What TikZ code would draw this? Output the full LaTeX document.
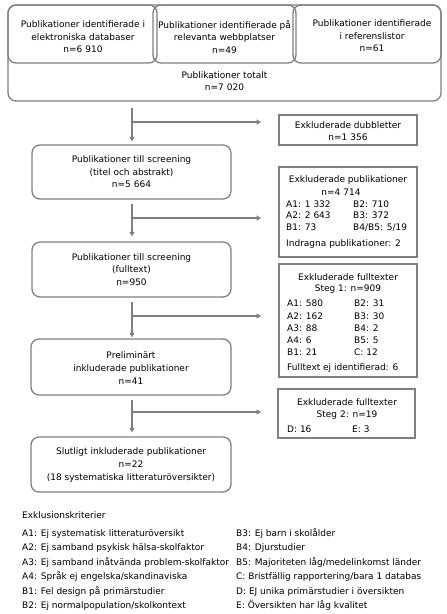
\documentclass[tikz,border=0pt]{standalone}
\usepackage{fontspec}
\newfontfamily\dv{DejaVu Sans}
\usetikzlibrary{arrows.meta}
\definecolor{boxgray}{HTML}{808080}
\definecolor{linegray}{HTML}{7F7F7F}
\begin{document}
\begin{tikzpicture}[x=1pt,y=-1pt,
  fs/.style={font=\dv\fontsize{9}{12.6}\selectfont},
  rbox/.style={draw=boxgray, line width=1.3pt, rounded corners=8pt, inner sep=0pt},
  sbox/.style={draw=boxgray, line width=1.9pt, inner sep=0pt},
  txt/.style={fs, align=center, inner sep=0pt},
  ltxt/.style={fs, anchor=base west, inner sep=0pt},
  arr/.style={draw=linegray, line width=1.4pt, -{Triangle[width=5pt,length=4.5pt]}},
]
\useasboundingbox (0,0) rectangle (447,614);
% top boxes
\node[rbox, minimum width=433pt, minimum height=96pt] (total) at (224.5,53) {};
\node[rbox, minimum width=149pt, minimum height=58pt] (t1) at (82.5,34) {};
\node[rbox, minimum width=143pt, minimum height=58pt] (t2) at (224.5,34) {};
\node[rbox, minimum width=148pt, minimum height=58pt] (t3) at (367,34) {};
\node[txt] (t1t) at (83,37) {Publikationer identifierade i\\elektroniska databaser\\n=6 910};
\node[txt] (t2t) at (224.5,37) {Publikationer identifierade på\\relevanta webbplatser\\n=49};
\node[txt] (t3t) at (372,36) {Publikationer identifierade\\i referenslistor\\n=61};
\node[txt] (tott) at (224.5,81) {Publikationer totalt\\n=7 020};
% left column
\node[rbox, minimum width=199pt, minimum height=54pt] (scr1) at (131.5,172) {};
\node[txt] at (scr1.center) {Publikationer till screening\\(titel och abstrakt)\\n=5 664};
\node[rbox, minimum width=199pt, minimum height=55pt] (scr2) at (131.5,269.5) {};
\node[txt] at (scr2.center) {Publikationer till screening\\(fulltext)\\n=950};
\node[rbox, minimum width=200pt, minimum height=56pt] (prel) at (131,367) {};
\node[txt] at (131,368) {Preliminärt\\inkluderade publikationer\\n=41};
\node[rbox, minimum width=200pt, minimum height=55pt] (fin) at (131,464.5) {};
\node[txt] at (131,465) {Slutligt inkluderade publikationer\\n=22\\(18 systematiska litteraturöversikter)};
% right column
\node[sbox, minimum width=138pt, minimum height=30pt] (dub) at (348,130) {};
\node[txt] at (348,131) {Exkluderade dubbletter\\n=1 356};
\node[sbox, minimum width=138pt, minimum height=90pt] (exp) at (348,212) {};
\node[txt] (expt) at (348,180) {Exkluderade publikationer};
\node[txt] at (341,192) {n=4 714};
\node[ltxt] at (286,207) {A1: 1 332};
\node[ltxt] at (353,207) {B2: 710};
\node[ltxt] at (286,218.5) {A2: 2 643};
\node[ltxt] at (353,218.5) {B3: 372};
\node[ltxt] at (286,230) {B1: 73};
\node[ltxt] at (353,230) {B4/B5: 5/19};
\node[ltxt] at (286,246.5) {Indragna publikationer: 2};
\node[sbox, minimum width=138pt, minimum height=113pt] (ex1) at (348,320.5) {};
\node[txt] at (348,277) {Exkluderade fulltexter};
\node[txt] at (348,289.5) {Steg 1: n=909};
\node[ltxt] at (287,306.5) {A1: 580};
\node[ltxt] at (354,306.5) {B2: 31};
\node[ltxt] at (287,319) {A2: 162};
\node[ltxt] at (354,319) {B3: 30};
\node[ltxt] at (287,331.5) {A3: 88};
\node[ltxt] at (354,331.5) {B4: 2};
\node[ltxt] at (287,343.5) {A4: 6};
\node[ltxt] at (354,343.5) {B5: 5};
\node[ltxt] at (287,355.5) {B1: 21};
\node[ltxt] at (354,355.5) {C: 12};
\node[ltxt] at (287,370.5) {Fulltext ej identifierad: 6};
\node[sbox, minimum width=137pt, minimum height=49pt] (ex2) at (346.5,413.5) {};
\node[txt] at (347,402.5) {Exkluderade fulltexter};
\node[txt] at (347,415.5) {Steg 2: n=19};
\node[ltxt] at (287,432.5) {D: 16};
\node[ltxt] at (352,432.5) {E: 3};
% arrows
\coordinate (b1) at (132,122);
\coordinate (b2) at (132,218);
\coordinate (b3) at (132,316);
\coordinate (b4) at (132,412);
\draw[arr, shorten <=6pt, shorten >=3pt] (total.south -| b1) -- (scr1.north -| b1);
\draw[arr, shorten >=17pt] (b1) -- (b1 -| dub.west);
\draw[arr, shorten <=4pt, shorten >=5pt] (scr1.south -| b2) -- (scr2.north -| b2);
\draw[arr, shorten >=17pt] (b2) -- (b2 -| exp.west);
\draw[arr, shorten <=4pt, shorten >=1pt] (scr2.south -| b3) -- (prel.north -| b3);
\draw[arr, shorten >=17pt] (b3) -- (b3 -| ex1.west);
\draw[arr, shorten <=4pt, shorten >=4pt] (prel.south -| b4) -- (fin.north -| b4);
\draw[arr, shorten >=16pt] (b4) -- (b4 -| ex2.west);
% legend
\node[ltxt] (leg) at (22,518) {Exklusionskriterier};
\node[ltxt] at (22,536) {A1: Ej systematisk litteraturöversikt};
\node[ltxt] at (22,550.5) {A2: Ej samband psykisk hälsa-skolfaktor};
\node[ltxt] at (22,565) {A3: Ej samband inåtvända problem-skolfaktor};
\node[ltxt] at (22,579.5) {A4: Språk ej engelska/skandinaviska};
\node[ltxt] at (22,594) {B1: Fel design på primärstudier};
\node[ltxt] at (22,608.5) {B2: Ej normalpopulation/skolkontext};
\node[ltxt] at (236,536) {B3: Ej barn i skolålder};
\node[ltxt] at (236,550.5) {B4: Djurstudier};
\node[ltxt] at (236,565) {B5: Majoriteten låg/medelinkomst länder};
\node[ltxt] at (236,579.5) {C: Bristfällig rapportering/bara 1 databas};
\node[ltxt] at (236,594) {D: EJ unika primärstudier i översikten};
\node[ltxt] at (236,608.5) {E: Översikten har låg kvalitet};
\end{tikzpicture}
\end{document}
